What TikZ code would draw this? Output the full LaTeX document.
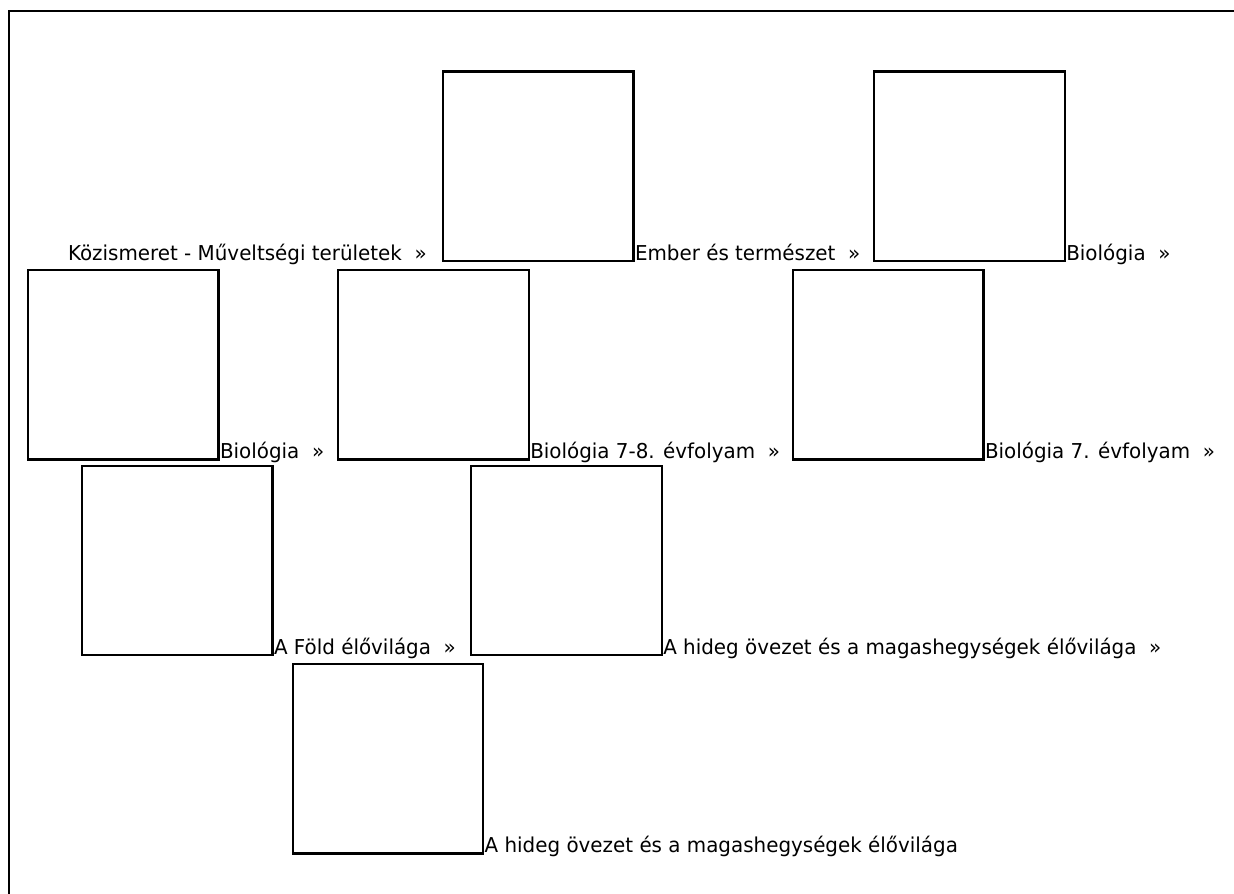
\documentclass[tikz,border=0pt]{standalone}
\usepackage{fontspec}
\setmainfont{DejaVu Sans}[FakeStretch=0.97]
\begin{document}
\begin{tikzpicture}[x=1pt,y=-1pt,
  picbox/.style={draw, line width=2.2pt, inner sep=0pt, outer sep=0pt,
    minimum width=190.5pt, minimum height=189.5pt, anchor=south west},
  crumb/.style={anchor=base west, inner sep=0pt, outer sep=0pt,
    font=\fontsize{20.5}{24}\selectfont}]
\useasboundingbox (0,0) rectangle (1234,894);
\draw[line width=2.2pt] (9,894) -- (9,11) -- (1234,11);
% row 1
\node[crumb] (t1) at (68,260) {Közismeret - Műveltségi területek~ »};
\node[picbox] (bA) at (443,261) {};
\node[crumb] (t2) at ([xshift=1.5pt,yshift=1pt]bA.south east) {Ember és természet~ »};
\node[picbox] (bB) at (874.3,261) {};
\node[crumb] (t3) at ([xshift=1.5pt,yshift=1pt]bB.south east) {Biológia~ »};
% row 2
\node[picbox] (bC) at (28,459.5) {};
\node[crumb] (t4) at ([xshift=1.5pt,yshift=1pt]bC.south east) {Biológia~ »};
\node[picbox] (bD) at (338.3,459.5) {};
\node[crumb] (t5) at ([xshift=1.5pt,yshift=1pt]bD.south east) {Biológia 7-8. évfolyam~ »};
\node[picbox] (bE) at (793,459.5) {};
\node[crumb] (t6) at ([xshift=1.5pt,yshift=1pt]bE.south east) {Biológia 7. évfolyam~ »};
% row 3
\node[picbox] (bF) at (82,655.3) {};
\node[crumb] (t7) at ([xshift=1.5pt,yshift=1pt]bF.south east) {A Föld élővilága~ »};
\node[picbox] (bG) at (471.3,655.3) {};
\node[crumb] (t8) at ([xshift=1.5pt,yshift=1pt]bG.south east) {A hideg övezet és a magashegységek élővilága~ »};
% row 4
\node[picbox] (bH) at (292.7,853.5) {};
\node[crumb] (t9) at ([xshift=1.5pt,yshift=1pt]bH.south east) {A hideg övezet és a magashegységek élővilága};
\end{tikzpicture}
\end{document}
